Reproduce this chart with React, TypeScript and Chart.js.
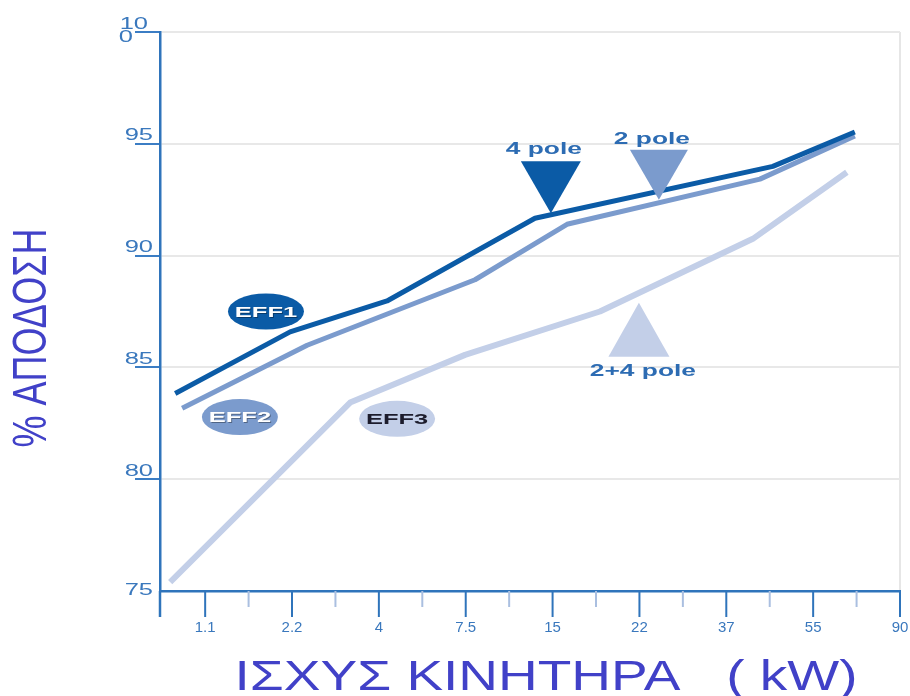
import { useEffect, useRef } from 'react';
import { Chart, registerables } from 'chart.js';

Chart.register(...registerables);

// Motor power classes (kW), evenly spaced along the rating axis at positions 1..9
const powerLabels = ['1.1', '2.2', '4', '7.5', '15', '22', '37', '55', '90'];

// Efficiency curves: position along the rating axis and efficiency in %
const eff1Pos = [0.655, 1.978, 3.094, 4.797, 7.536, 8.48];
const eff1Val = [83.83, 86.59, 87.97, 91.67, 93.99, 95.53];
const eff2Pos = [0.735, 2.174, 4.107, 5.166, 7.387, 8.48];
const eff2Val = [83.17, 85.99, 88.92, 91.4, 93.42, 95.35];
const eff3Pos = [0.597, 2.669, 3.992, 5.545, 7.306, 8.388];
const eff3Val = [75.4, 83.43, 85.56, 87.5, 90.75, 93.73];

const yTicks = [75, 80, 85, 90, 95, 100];

// Efficiency class badges (anchored in data units)
const badgeNames = ['EFF1', 'EFF2', 'EFF3'];
const badgePos = [1.7, 1.4, 3.21];
const badgeVal = [87.5, 82.78, 82.7];

// Pole markers (apex anchored in data units)
const markerNames = ['4 pole', '2 pole', '2+4 pole'];
const markerPos = [4.98, 6.224, 5.994];
const markerVal = [91.89, 92.5, 87.89];

const LINE_COLORS = ['#0b5ba6', '#7b9bcd', '#c3cfe8'];
const LINE_WIDTHS = [5, 5, 6];
const BADGE_TEXT = ['#ffffff', '#ffffff', '#1c1c2c'];
const MARKER_UP = [false, false, true];
const MARKER_SIZE = [
  [60, 52],
  [58, 50],
  [61, 54],
];
const MARKER_LABEL_OFFSET = [
  [-7, -64],
  [-7, -60],
  [4, 69],
];
const AXIS_BLUE = '#2f74bb';
const LABEL_BLUE = '#3a78bd';
const TITLE_COLOR = '#4141c8';
const FONT = '"Liberation Sans", Arial, sans-serif';

function stretchText(
  ctx: CanvasRenderingContext2D,
  text: string,
  x: number,
  y: number,
  font: string,
  color: string,
  sx: number,
  align: CanvasTextAlign = 'center',
) {
  ctx.save();
  ctx.font = font;
  ctx.fillStyle = color;
  ctx.textAlign = align;
  ctx.textBaseline = 'middle';
  ctx.translate(x, y);
  ctx.scale(sx, 1);
  ctx.fillText(text, 0, 0);
  ctx.restore();
}

function fitText(
  ctx: CanvasRenderingContext2D,
  text: string,
  cx: number,
  cy: number,
  font: string,
  color: string,
  width: number,
) {
  ctx.save();
  ctx.font = font;
  const sx = width / ctx.measureText(text).width;
  ctx.restore();
  stretchText(ctx, text, cx, cy, font, color, sx, 'center');
}

const decor = {
  id: 'decor',
  afterDatasetsDraw(chart: any) {
    const { ctx, scales } = chart;
    const x = scales.x;
    const y = scales.y;

    // class badges
    badgeNames.forEach((name, i) => {
      const cx = x.getPixelForValue(badgePos[i]);
      const cy = y.getPixelForValue(badgeVal[i]);
      ctx.save();
      ctx.beginPath();
      ctx.ellipse(cx, cy, 38, 18, 0, 0, Math.PI * 2);
      ctx.fillStyle = LINE_COLORS[i];
      ctx.fill();
      ctx.restore();
      ctx.save();
      if (i < 2) {
        ctx.shadowColor = 'rgba(0,0,0,0.35)';
        ctx.shadowOffsetX = 1;
        ctx.shadowOffsetY = 1;
      }
      stretchText(ctx, name, cx, cy + 1, `bold 15px ${FONT}`, BADGE_TEXT[i], 1.7);
      ctx.restore();
    });

    // pole markers
    markerNames.forEach((name, i) => {
      const px = x.getPixelForValue(markerPos[i]);
      const py = y.getPixelForValue(markerVal[i]);
      const [w, h] = MARKER_SIZE[i];
      const base = MARKER_UP[i] ? py + h : py - h;
      ctx.save();
      ctx.beginPath();
      ctx.moveTo(px - w / 2, base);
      ctx.lineTo(px + w / 2, base);
      ctx.lineTo(px, py);
      ctx.closePath();
      ctx.fillStyle = LINE_COLORS[i];
      ctx.fill();
      ctx.restore();
      const [ox, oy] = MARKER_LABEL_OFFSET[i];
      stretchText(ctx, name, px + ox, py + oy, `bold 17px ${FONT}`, '#2d6cb3', 1.55);
    });
  },
  afterDraw(chart: any) {
    const { ctx, chartArea: a, scales } = chart;
    const x = scales.x;
    const y = scales.y;

    // tick marks and labels below the rating axis
    ctx.save();
    ctx.lineWidth = 2;
    powerLabels.forEach((label, k) => {
      const i = k + 1;
      const px = x.getPixelForValue(i);
      ctx.strokeStyle = AXIS_BLUE;
      ctx.beginPath();
      ctx.moveTo(px, a.bottom);
      ctx.lineTo(px, a.bottom + 26);
      ctx.stroke();
      if (i < powerLabels.length) {
        const mx = x.getPixelForValue(i + 0.5);
        ctx.strokeStyle = '#aabfe0';
        ctx.beginPath();
        ctx.moveTo(mx, a.bottom);
        ctx.lineTo(mx, a.bottom + 16);
        ctx.stroke();
      }
      stretchText(ctx, label, px, a.bottom + 37, `15px ${FONT}`, LABEL_BLUE, 1, 'center');
    });
    ctx.strokeStyle = AXIS_BLUE;
    ctx.lineWidth = 2.5;
    ctx.beginPath();
    ctx.moveTo(a.left, a.bottom);
    ctx.lineTo(a.left, a.bottom + 26);
    ctx.stroke();
    ctx.restore();

    // efficiency tick labels
    const tickFont = `17px ${FONT}`;
    yTicks.forEach((t) => {
      const py = y.getPixelForValue(t);
      if (t === 100) {
        stretchText(ctx, '10', a.left - 12, py - 8, tickFont, LABEL_BLUE, 1.5, 'right');
        stretchText(ctx, '0', a.left - 27, py + 5, tickFont, LABEL_BLUE, 1.5, 'right');
      } else {
        const dy = t === y.min ? -1 : -8;
        stretchText(ctx, String(t), a.left - 7, py + dy, tickFont, LABEL_BLUE, 1.5, 'right');
      }
    });

    // axis titles
    ctx.save();
    ctx.font = `36px ${FONT}`;
    ctx.fillStyle = TITLE_COLOR;
    ctx.textAlign = 'center';
    ctx.textBaseline = 'middle';
    ctx.translate(33, 338);
    ctx.rotate(-Math.PI / 2);
    ctx.scale(1, 1.36);
    ctx.fillText('% ΑΠΟΔΟΣΗ', 0, 0);
    ctx.restore();

    fitText(ctx, 'ΙΣΧΥΣ ΚΙΝΗΤΗΡΑ   ( kW)', 546, 678, `42px ${FONT}`, TITLE_COLOR, 623);
  },
};

export default function App() {
  const canvasRef = useRef<HTMLCanvasElement | null>(null);

  useEffect(() => {
    const canvas = canvasRef.current;
    if (!canvas) return;
    const series = [
      [eff1Pos, eff1Val, 'EFF1'],
      [eff2Pos, eff2Val, 'EFF2'],
      [eff3Pos, eff3Val, 'EFF3'],
    ] as const;

    const chart = new Chart(canvas, {
      type: 'line',
      data: {
        datasets: series.map(([pos, val, label], i) => ({
          label,
          data: pos.map((p, k) => ({ x: p, y: val[k] })),
          borderColor: LINE_COLORS[i],
          borderWidth: LINE_WIDTHS[i],
          borderJoinStyle: 'round' as const,
          pointRadius: 0,
          tension: 0,
          fill: false,
        })),
      },
      options: {
        responsive: false,
        maintainAspectRatio: false,
        animation: false,
        layout: { padding: { top: 32, right: 10, left: 0, bottom: 0 } },
        plugins: {
          legend: { display: false },
          tooltip: { enabled: false },
          title: { display: false },
        },
        scales: {
          x: {
            type: 'linear',
            min: 0.48,
            max: 9,
            afterBuildTicks: (s: any) => {
              s.ticks = powerLabels.map((_, i) => ({ value: i + 1 }));
            },
            afterFit: (s: any) => {
              s.height = 105;
            },
            ticks: { display: false },
            grid: {
              drawTicks: false,
              lineWidth: 2,
              color: (c: any) => (c.tick && c.tick.value === 9 ? '#e6e6e6' : 'rgba(0,0,0,0)'),
            },
            border: { color: AXIS_BLUE, width: 2.5 },
          },
          y: {
            type: 'linear',
            min: 75,
            max: 100,
            afterBuildTicks: (s: any) => {
              s.ticks = yTicks.map((v) => ({ value: v }));
            },
            afterFit: (s: any) => {
              s.width = 160;
            },
            ticks: { display: false },
            grid: {
              color: '#e8e8e8',
              lineWidth: 2,
              tickLength: 25,
              tickWidth: 2,
              tickColor: (c: any) =>
                c.tick && c.tick.value === 75 ? 'rgba(0,0,0,0)' : '#3b7dc4',
            },
            border: { color: AXIS_BLUE, width: 2.5 },
          },
        },
      },
      plugins: [decor],
    });

    return () => chart.destroy();
  }, []);

  return (
    <div
      style={{
        position: 'fixed',
        left: 0,
        top: 0,
        width: 910,
        height: 696,
        background: '#ffffff',
        overflow: 'hidden',
      }}
    >
      <canvas ref={canvasRef} width={910} height={696} style={{ display: 'block' }} />
    </div>
  );
}
